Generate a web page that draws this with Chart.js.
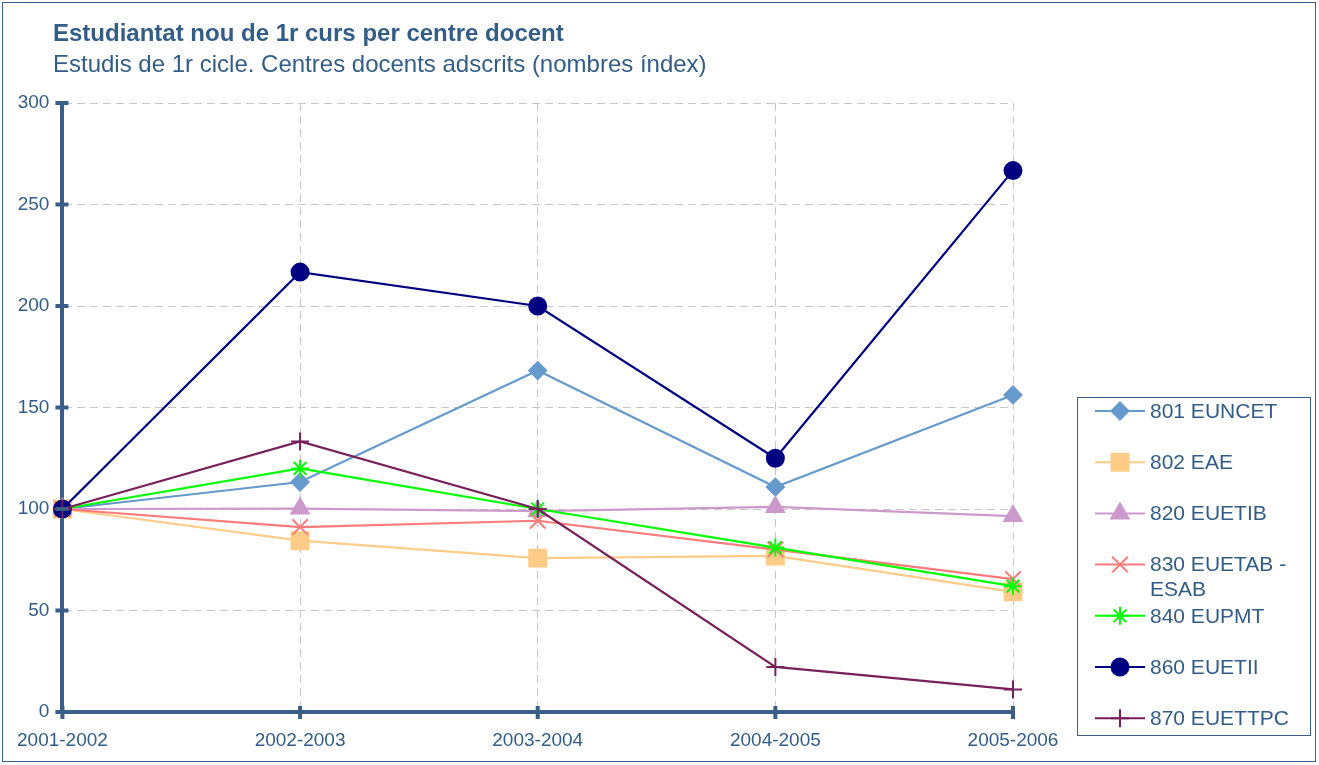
<!DOCTYPE html>
<html>
<head>
<meta charset="utf-8">
<script src="https://cdn.jsdelivr.net/npm/chart.js@4"></script>
<style>
  html, body { margin: 0; padding: 0; background: #fff; }
  #wrap { position: relative; width: 1319px; height: 765px; overflow: hidden; font-family: Arial, "Liberation Sans", sans-serif; }
  #frame { position: absolute; left: 2px; top: 2px; width: 1314px; height: 760px; border: 1px solid #3B5F8A; box-sizing: border-box; }
  .title { position: absolute; left: 53px; top: 21px; font-size: 24px; line-height: 24px; font-weight: bold; color: #335D87; white-space: nowrap; }
  .subtitle { position: absolute; left: 53px; top: 52px; font-size: 24px; line-height: 24px; color: #335D87; white-space: nowrap; }
  canvas { position: absolute; left: 0; top: 0; }
</style>
</head>
<body>
<div id="wrap">
  <div id="frame"></div>
  <canvas id="chart" width="1319" height="765"></canvas>
  <div class="title">Estudiantat nou de 1r curs per centre docent</div>
  <div class="subtitle">Estudis de 1r cicle. Centres docents adscrits (nombres índex)</div>
</div>
<script>
// categories and series (index numbers, 2001-2002 = 100)
const years = ['2001-2002', '2002-2003', '2003-2004', '2004-2005', '2005-2006'];

const euncet = [100, 113.3, 168.2, 110.8, 156.2];
const eae = [100, 84.4, 75.8, 76.9, 59.2];
const euetib = [100, 100.2, 99.0, 101.0, 96.5];
const euetab = [100, 91.1, 94.2, 80.0, 65.5];
const eupmt = [100, 120.0, 100.0, 81.0, 62.0];
const euetii = [100, 216.7, 200.0, 125.0, 266.7];
const euettpc = [100, 133.3, 100.0, 22.2, 11.1];

const seriesNames = ['801 EUNCET', '802 EAE', '820 EUETIB', '830 EUETAB - ESAB', '840 EUPMT', '860 EUETII', '870 EUETTPC'];
const seriesValues = [euncet, eae, euetib, euetab, eupmt, euetii, euettpc];
const seriesColors = ['#6699CC', '#FFCC88', '#CC99CC', '#FF7B7B', '#00FF00', '#000080', '#77215A'];
const seriesPoints = ['rectRot', 'rect', 'triangle', 'crossRot', 'star', 'circle', 'cross'];
const pointSizes = [8.5, 12, 10, 11, 9, 8.5, 9];

const yTicks = [0, 50, 100, 150, 200, 250, 300];

const axisColor = '#3A5E86';
const textColor = '#335D87';
const fontFamily = 'Arial, "Liberation Sans", sans-serif';

const datasets = seriesNames.map((name, i) => ({
  label: name,
  data: seriesValues[i],
  borderColor: seriesColors[i],
  backgroundColor: seriesColors[i],
  borderWidth: 2.2,
  pointStyle: seriesPoints[i],
  pointRadius: pointSizes[i],
  pointHoverRadius: pointSizes[i],
  pointBorderWidth: 2,
  pointBackgroundColor: seriesColors[i],
  pointBorderColor: seriesColors[i],
  tension: 0,
  clip: false,
  order: seriesNames.length - i
}));

// thick tick marks crossing both axes
const axisTicks = {
  id: 'axisTicks',
  afterDraw(chart) {
    const ctx = chart.ctx;
    const x = chart.scales.x, y = chart.scales.y;
    ctx.save();
    ctx.strokeStyle = axisColor;
    ctx.lineWidth = 4;
    yTicks.forEach(v => {
      const py = y.getPixelForValue(v);
      ctx.beginPath();
      ctx.moveTo(x.left - 7, py);
      ctx.lineTo(x.left + 6, py);
      ctx.stroke();
    });
    years.forEach((c, i) => {
      const px = x.getPixelForValue(i);
      ctx.beginPath();
      ctx.moveTo(px, y.bottom - 6);
      ctx.lineTo(px, y.bottom + 7);
      ctx.stroke();
    });
    ctx.restore();
  }
};

// boxed legend to the right with line + marker samples
const boxLegend = {
  id: 'boxLegend',
  afterDraw(chart) {
    const ctx = chart.ctx;
    const left = chart.chartArea.right + 64;
    const top = 397;
    const width = 233;
    const height = 338;
    ctx.save();
    ctx.strokeStyle = '#3B5F8A';
    ctx.lineWidth = 1;
    ctx.strokeRect(left + 0.5, top + 0.5, width, height);
    ctx.font = '21px ' + fontFamily;
    ctx.textBaseline = 'middle';
    chart.data.datasets.forEach((ds, i) => {
      const cy = top + 14 + i * 51.2;
      const lx = left + 18;
      ctx.strokeStyle = ds.borderColor;
      ctx.fillStyle = ds.backgroundColor;
      ctx.lineWidth = 2;
      ctx.beginPath();
      ctx.moveTo(lx, cy);
      ctx.lineTo(lx + 50, cy);
      ctx.stroke();
      Chart.helpers.drawPoint(ctx, {
        pointStyle: ds.pointStyle,
        radius: ds.pointRadius,
        rotation: 0,
        borderWidth: 2
      }, lx + 25, cy);
      // wrap long labels
      ctx.fillStyle = textColor;
      const words = ds.label.split(' ');
      const lines = [];
      let cur = '';
      words.forEach(w => {
        const t = cur ? cur + ' ' + w : w;
        if (ctx.measureText(t).width > 155 && cur) {
          lines.push(cur);
          cur = w;
        } else {
          cur = t;
        }
      });
      lines.push(cur);
      lines.forEach((ln, k) => ctx.fillText(ln, lx + 55, cy + 1 + k * 25));
    });
    ctx.restore();
  }
};

new Chart(document.getElementById('chart'), {
  type: 'line',
  data: { labels: years, datasets: datasets },
  options: {
    responsive: false,
    animation: false,
    events: [],
    layout: { padding: { left: 0, top: 103, right: 306, bottom: 0 } },
    plugins: {
      legend: { display: false },
      title: { display: false },
      tooltip: { enabled: false }
    },
    scales: {
      x: {
        offset: false,
        afterFit(scale) { scale.height = 53; },
        border: { display: true, color: axisColor, width: 4, dash: [8, 5] },
        grid: { color: '#C8C8C8', lineWidth: 1, drawTicks: false },
        ticks: {
          color: textColor,
          font: { family: fontFamily, size: 19 },
          padding: 17,
          maxRotation: 0,
          autoSkip: false
        }
      },
      y: {
        min: 0,
        max: 300,
        afterFit(scale) { scale.width = 62; },
        afterBuildTicks(scale) { scale.ticks = yTicks.map(v => ({ value: v })); },
        border: { display: true, color: axisColor, width: 4, dash: [8, 5] },
        grid: { color: '#C8C8C8', lineWidth: 1, drawTicks: false },
        ticks: {
          color: textColor,
          font: { family: fontFamily, size: 19 },
          padding: 13
        }
      }
    }
  },
  plugins: [axisTicks, boxLegend]
});
</script>
</body>
</html>
